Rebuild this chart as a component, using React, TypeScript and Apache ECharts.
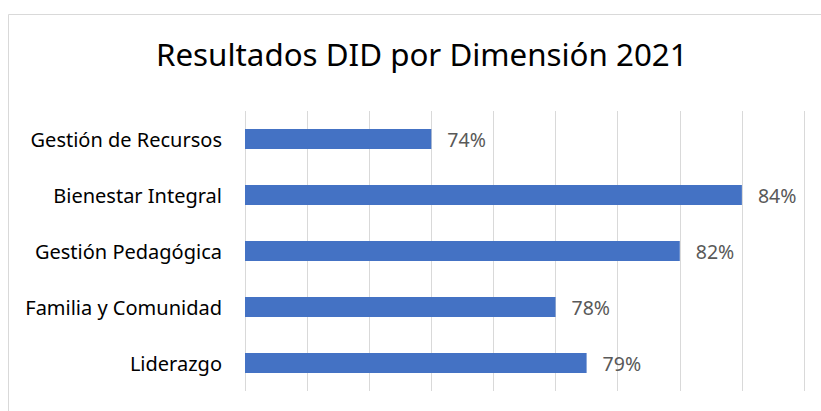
import React, { useEffect, useRef } from "react";
import * as echarts from "echarts";

const titleText = "Resultados DID por Dimensión 2021";
const categories = [
  "Gestión de Recursos",
  "Bienestar Integral",
  "Gestión Pedagógica",
  "Familia y Comunidad",
  "Liderazgo",
];
const values = [0.74, 0.84, 0.82, 0.78, 0.79];
const axisMin = 0.68;
const axisMax = 0.86;
const axisStep = 0.02;

export default function App() {
  const ref = useRef<HTMLDivElement>(null);
  useEffect(() => {
    if (!ref.current) return;
    const chart = echarts.init(ref.current, undefined, { renderer: "svg" });
    chart.setOption({
      animation: false,
      backgroundColor: "#ffffff",
      textStyle: { fontFamily: "Noto Sans" },
      graphic: [
        {
          type: "rect",
          shape: { x: 8.5, y: 14.5, width: 900, height: 500 },
          style: { fill: "none", stroke: "#d9d9d9", lineWidth: 1 },
          silent: true,
        },
      ],
      title: {
        text: titleText,
        left: 151,
        top: 33,
        textStyle: {
          fontFamily: "Noto Sans",
          fontSize: 31.3,
          fontWeight: "normal",
          color: "#000000",
        },
      },
      grid: { left: 245, right: 17, top: 111, bottom: 20, containLabel: false },
      xAxis: {
        type: "value",
        min: axisMin,
        max: axisMax,
        interval: axisStep,
        axisLabel: { show: false },
        axisLine: { show: false },
        axisTick: { show: false },
        splitLine: { show: true, lineStyle: { color: "#d9d9d9", width: 1 } },
      },
      yAxis: {
        type: "category",
        data: categories,
        inverse: true,
        axisLine: { show: false },
        axisTick: { show: false },
        axisLabel: {
          margin: 23,
          fontFamily: "Noto Sans",
          fontSize: 20,
          color: "#000000",
        },
      },
      series: [
        {
          type: "bar",
          data: values,
          barWidth: 20,
          itemStyle: { color: "#4472c4" },
          label: {
            show: true,
            position: "right",
            distance: 16,
            fontFamily: "Noto Sans",
            fontSize: 19.5,
            color: "#595959",
            formatter: (p: any) => Math.round(p.value * 100) + "%",
          },
        },
      ],
    });
    return () => chart.dispose();
  }, []);
  return (
    <div
      ref={ref}
      style={{ position: "fixed", left: 0, top: 0, width: 821, height: 411 }}
    />
  );
}
